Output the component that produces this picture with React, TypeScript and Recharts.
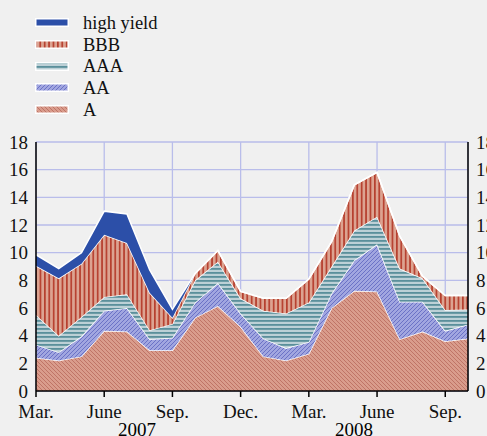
import React from "react";
import { Area, AreaChart, CartesianGrid, XAxis, YAxis } from "recharts";

// monthly points, Mar. 2007 .. Oct. 2008
const months = [
  "2007-03", "2007-04", "2007-05", "2007-06", "2007-07", "2007-08", "2007-09",
  "2007-10", "2007-11", "2007-12", "2008-01", "2008-02", "2008-03", "2008-04",
  "2008-05", "2008-06", "2008-07", "2008-08", "2008-09", "2008-10",
];
const tickIdx = [0, 3, 6, 9, 12, 15, 18];
const tickLabels = ["Mar.", "June", "Sep.", "Dec.", "Mar.", "June", "Sep."];
const yTicks = [0, 2, 4, 6, 8, 10, 12, 14, 16, 18];
const years = ["2007", "2008"];

// stacked, bottom to top
const aVals = [2.4, 2.2, 2.5, 4.35, 4.3, 2.95, 2.95, 5.3, 6.15, 4.65, 2.5, 2.2, 2.7, 6.0, 7.25, 7.2, 3.75, 4.3, 3.6, 3.8];
const aaVals = [0.95, 0.6, 1.45, 1.45, 1.7, 0.8, 0.9, 1.1, 1.65, 0.95, 1.3, 0.9, 0.85, 1.05, 2.2, 3.4, 2.7, 2.15, 0.75, 1.0];
const aaaVals = [2.15, 1.2, 1.4, 1.0, 1.0, 0.65, 1.0, 1.6, 1.55, 1.1, 2.0, 2.5, 2.85, 1.95, 2.15, 2.0, 2.4, 1.7, 1.5, 1.1];
const bbbVals = [3.55, 4.15, 3.85, 4.5, 3.7, 2.7, 0.45, 0.5, 0.8, 0.5, 0.9, 1.1, 1.7, 1.8, 3.3, 3.2, 2.35, 0.15, 1.05, 1.0];
const hyVals = [0.8, 0.7, 0.8, 1.7, 2.1, 1.65, 0.6, 0, 0, 0, 0, 0, 0, 0, 0, 0, 0, 0, 0, 0];

const FONT = '"Liberation Serif", "Times New Roman", serif';
const FS = 19;

const series = [
  { key: "A", fill: "url(#patA)" },
  { key: "AA", fill: "url(#patAA)" },
  { key: "AAA", fill: "url(#patAAA)" },
  { key: "BBB", fill: "url(#patBBB)" },
  { key: "high yield", fill: "#2c4fa8" },
];

function Patterns() {
  return (
    <svg width={0} height={0} style={{ position: "absolute" }}>
      <defs>
        <pattern id="patA" width={4} height={4} patternUnits="userSpaceOnUse">
          <rect width={4} height={4} fill="#d99c8c" />
          <path d="M0,0 L4,4 M-1,3 L1,5 M3,-1 L5,1" stroke="#bf7466" strokeWidth={1} />
        </pattern>
        <pattern id="patAA" width={4} height={4} patternUnits="userSpaceOnUse">
          <rect width={4} height={4} fill="#a1a6e0" />
          <path d="M0,4 L4,0 M-1,1 L1,-1 M3,5 L5,3" stroke="#6b72c6" strokeWidth={1} />
        </pattern>
        <pattern id="patAAA" width={4} height={4} patternUnits="userSpaceOnUse">
          <rect width={4} height={4} fill="#bcd0d6" />
          <rect width={4} height={1.8} fill="#5a8f9b" />
        </pattern>
        <pattern id="patBBB" width={4.4} height={4} patternUnits="userSpaceOnUse">
          <rect width={4.4} height={4} fill="#dca391" />
          <rect width={1.7} height={4} fill="#b6402f" />
        </pattern>
      </defs>
    </svg>
  );
}

export default function App() {
  const data = months.map((m, i) => ({
    i,
    month: m,
    A: aVals[i],
    AA: aaVals[i],
    AAA: aaaVals[i],
    BBB: bbbVals[i],
    "high yield": hyVals[i],
  }));

  const legend = [...series].reverse();
  const tickStyle = { fontSize: FS, fontFamily: FONT, fill: "#111" };

  return (
    <div
      style={{
        position: "absolute",
        left: 0,
        top: 0,
        width: 487,
        height: 436,
        overflow: "hidden",
        background: "#f0f0f0",
        fontFamily: FONT,
      }}
    >
      <Patterns />

      <div style={{ position: "absolute", left: 35, top: 12 }}>
        {legend.map((s) => (
          <div key={s.key} style={{ display: "flex", alignItems: "center", height: 21.7 }}>
            <svg width={34} height={9} style={{ display: "block" }}>
              <rect x={0.75} y={0.75} width={32.5} height={7.5} fill={s.fill} stroke="#fff" strokeWidth={1.5} />
            </svg>
            <span style={{ marginLeft: 14, fontSize: 18.5, lineHeight: "18px", color: "#111" }}>{s.key}</span>
          </div>
        ))}
      </div>

      <AreaChart width={487} height={436} data={data} margin={{ top: 142, right: 0, bottom: 0, left: 0 }}>
        <CartesianGrid yAxisId="l" stroke="#b9bdea" strokeWidth={1.3} />
        <XAxis
          dataKey="i"
          type="number"
          domain={[0, 19]}
          ticks={tickIdx}
          tickFormatter={(v) => tickLabels[tickIdx.indexOf(Number(v))]}
          height={45}
          stroke="#000"
          strokeWidth={1.5}
          tickSize={6}
          tickMargin={8}
          tick={tickStyle}
          interval={0}
        />
        <YAxis
          yAxisId="l"
          domain={[0, 18]}
          ticks={yTicks}
          width={36}
          stroke="#000"
          strokeWidth={1.5}
          tickLine={false}
          tick={tickStyle}
          interval={0}
        />
        <YAxis
          yAxisId="r"
          orientation="right"
          domain={[0, 18]}
          ticks={yTicks}
          width={19}
          stroke="#000"
          strokeWidth={1.5}
          tickLine={false}
          tick={tickStyle}
          interval={0}
        />
        {series.map((s) => (
          <Area
            key={s.key}
            yAxisId="l"
            type="linear"
            dataKey={s.key}
            stackId="1"
            fill={s.fill}
            fillOpacity={1}
            stroke="#fff"
            strokeWidth={1.5}
            dot={false}
            activeDot={false}
            isAnimationActive={false}
          />
        ))}
        {/* invisible series so the right axis gets its ticks */}
        <Area
          yAxisId="r"
          type="linear"
          dataKey="A"
          fill="none"
          stroke="none"
          dot={false}
          activeDot={false}
          isAnimationActive={false}
        />
      </AreaChart>

      <div style={{ position: "absolute", left: 117, top: 422, width: 40, textAlign: "center", fontSize: FS, lineHeight: "16px" }}>
        {years[0]}
      </div>
      <div style={{ position: "absolute", left: 334, top: 422, width: 40, textAlign: "center", fontSize: FS, lineHeight: "16px" }}>
        {years[1]}
      </div>
    </div>
  );
}
